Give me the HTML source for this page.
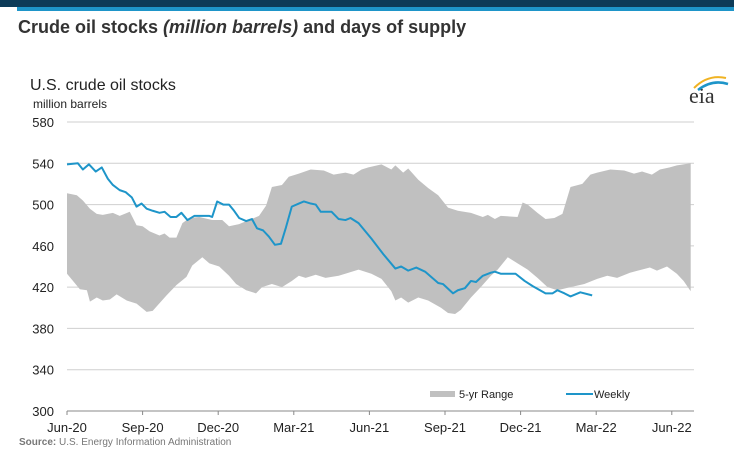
<!DOCTYPE html>
<html><head><meta charset="utf-8"><style>
body{margin:0;background:#fff;width:734px;height:457px;overflow:hidden;font-family:"Liberation Sans",Arial,sans-serif}
</style></head><body>
<svg width="734" height="457" viewBox="0 0 734 457" id="chart">
<rect x="0" y="0" width="734" height="7" fill="#0d3b58"/>
<rect x="17" y="7" width="717" height="4" fill="#1e95c9"/>
<text x="18" y="33" font-size="18" font-weight="bold" fill="#333">Crude oil stocks <tspan font-style="italic">(million barrels)</tspan> and days of supply</text>
<text x="30" y="90" font-size="16" fill="#222">U.S. crude oil stocks</text>
<text x="33" y="108" font-size="12" fill="#222">million barrels</text>
<g>
<text x="689" y="103" font-size="22" font-family="Liberation Serif,serif" fill="#333">eia</text>
<path d="M694 88 Q708 74 726 78" stroke="#f0b323" stroke-width="2" fill="none"/>
<path d="M698 90 Q712 79 728 84" stroke="#1e95c9" stroke-width="2.5" fill="none"/>
</g>
<g id="grid"></g><g id="band"></g><g id="line"></g><g id="axes"></g>
<g>
<rect x="430" y="391" width="25" height="6" fill="#c0c0c0"/>
<text x="459" y="398" font-size="11" fill="#222">5-yr Range</text>
<line x1="566" y1="394" x2="593" y2="394" stroke="#1e95c9" stroke-width="2"/>
<text x="594" y="398" font-size="11" fill="#222">Weekly</text>
</g>
<text x="19" y="445" font-size="10" fill="#777"><tspan font-weight="bold">Source:</tspan> U.S. Energy Information Administration</text>
</svg>
<script>
const yTicks=[300,340,380,420,460,500,540,580];
const xLabels=["Jun-20","Sep-20","Dec-20","Mar-21","Jun-21","Sep-21","Dec-21","Mar-22","Jun-22"];
const xLabelMonths=[0,3,6,9,12,15,18,21,24];
const weeklyMonths=[0,0.43,0.63,0.87,1.14,1.38,1.62,1.82,2.09,2.33,2.57,2.76,2.96,3.16,3.40,3.67,3.87,4.11,4.34,4.54,4.78,5.05,5.65,5.76,5.96,6.20,6.43,6.63,6.83,7.11,7.34,7.54,7.78,8.01,8.25,8.49,8.69,8.92,9.20,9.40,9.67,9.87,10.07,10.26,10.50,10.78,11.05,11.25,11.57,12.08,12.55,13.03,13.26,13.54,13.86,14.21,14.73,14.92,15.32,15.51,15.79,16.03,16.23,16.50,16.82,16.98,17.21,17.49,17.80,18.16,18.48,18.99,19.27,19.46,19.74,19.98,20.37,20.84];
const weeklyValues=[539,540,534,539,532,536,525,519,514,512,507,498,501,496,494,492,493,488,488,492,485,489,489,488,503,500,500,494,487,484,486,477,475,469,461,462,478,498,501,503,501,500,493,493,493,486,485,487,482,467,452,438,440,436,439,435,424,423,414,417,419,426,425,431,434,435,433,433,433,426,421,414,414,417,414,411,415,412];
const upperMonths=[0,0.39,0.63,0.91,1.18,1.42,1.82,2.09,2.49,2.76,3.00,3.28,3.67,3.87,4.07,4.34,4.58,4.86,5.25,5.76,6.16,6.43,6.83,7.22,7.62,7.90,8.13,8.53,8.80,9.20,9.67,10.19,10.58,11.05,11.37,11.69,11.96,12.48,12.87,13.03,13.34,13.54,13.94,14.33,14.73,15.12,15.51,16.03,16.50,16.70,16.98,17.21,17.88,18.08,18.28,18.67,18.99,19.34,19.66,19.98,20.45,20.77,21.04,21.56,22.11,22.50,22.82,23.21,23.53,23.92,24.20,24.75];
const upperValues=[511,509,504,496,491,490,492,489,493,480,479,474,470,472,468,468,482,487,488,485,485,479,481,485,489,499,517,519,527,530,534,533,529,531,529,534,536,539,534,538,531,535,524,516,509,497,494,492,488,490,486,489,488,502,500,492,486,487,491,517,520,529,531,534,533,530,532,529,534,536,538,540];
const lowerMonths=[0,0.24,0.51,0.79,0.91,1.18,1.42,1.70,1.97,2.37,2.76,3.16,3.40,3.95,4.34,4.74,4.97,5.37,5.65,6.04,6.43,6.71,7.11,7.50,7.74,8.13,8.53,8.92,9.20,9.47,9.87,10.26,10.78,11.17,11.57,12.08,12.48,12.87,13.03,13.26,13.54,13.94,14.33,14.84,15.12,15.40,15.63,16.03,16.42,16.82,17.09,17.49,17.88,18.28,18.67,19.07,19.46,19.98,20.53,21.04,21.44,21.83,22.34,23.13,23.41,23.81,24.20,24.47,24.75];
const lowerValues=[433,426,418,417,406,410,407,408,413,407,404,396,397,412,422,430,441,449,443,440,431,423,417,414,420,423,420,426,431,429,432,429,431,434,437,433,428,416,407,410,405,410,407,400,395,394,398,410,420,431,437,449,443,437,429,420,417,420,423,428,431,429,434,439,436,440,433,426,416];

const NS="http://www.w3.org/2000/svg";
const X0=67,X1=694,PXM=25.2,YTOP=122,YBOT=411;
const xS=m=>X0+m*PXM;
const yS=v=>YBOT-(v-300)/(580-300)*(YBOT-YTOP);
function mk(tag,attrs,parent,txt){const e=document.createElementNS(NS,tag);for(const k in attrs)e.setAttribute(k,attrs[k]);if(txt!==undefined)e.textContent=txt;document.getElementById(parent).appendChild(e);return e;}
yTicks.forEach(v=>{
  if(v>300){const g=mk('line',{x1:X0,x2:X1,y1:yS(v),y2:yS(v),stroke:'#cfcfcf','stroke-width':1},'grid');
  
  }
  const t=mk('text',{x:54,y:yS(v)+5,'font-size':13,'text-anchor':'end',fill:'#222'},'axes',String(v));
  
  
});
let pts=upperMonths.map((m,i)=>xS(m)+','+yS(upperValues[i]));
for(let i=lowerMonths.length-1;i>=0;i--)pts.push(xS(lowerMonths[i])+','+yS(lowerValues[i]));
const band=mk('polygon',{points:pts.join(' '),fill:'#c0c0c0'},'band');


const ln=mk('polyline',{points:weeklyMonths.map((m,i)=>xS(m)+','+yS(weeklyValues[i])).join(' '),fill:'none',stroke:'#1e95c9','stroke-width':2,'stroke-linejoin':'round'},'line');


const ax=mk('line',{x1:X0,x2:X1,y1:YBOT,y2:YBOT,stroke:'#888','stroke-width':1},'axes');


xLabels.forEach((l,i)=>{
  const x=xS(xLabelMonths[i]);
  const tk=mk('line',{x1:x,x2:x,y1:YBOT,y2:YBOT+4,stroke:'#888'},'axes');
  
  
  const t=mk('text',{x:x,y:YBOT+21,'font-size':13,'text-anchor':'middle',fill:'#222'},'axes',l);
  
  
});
</script>
</body></html>
